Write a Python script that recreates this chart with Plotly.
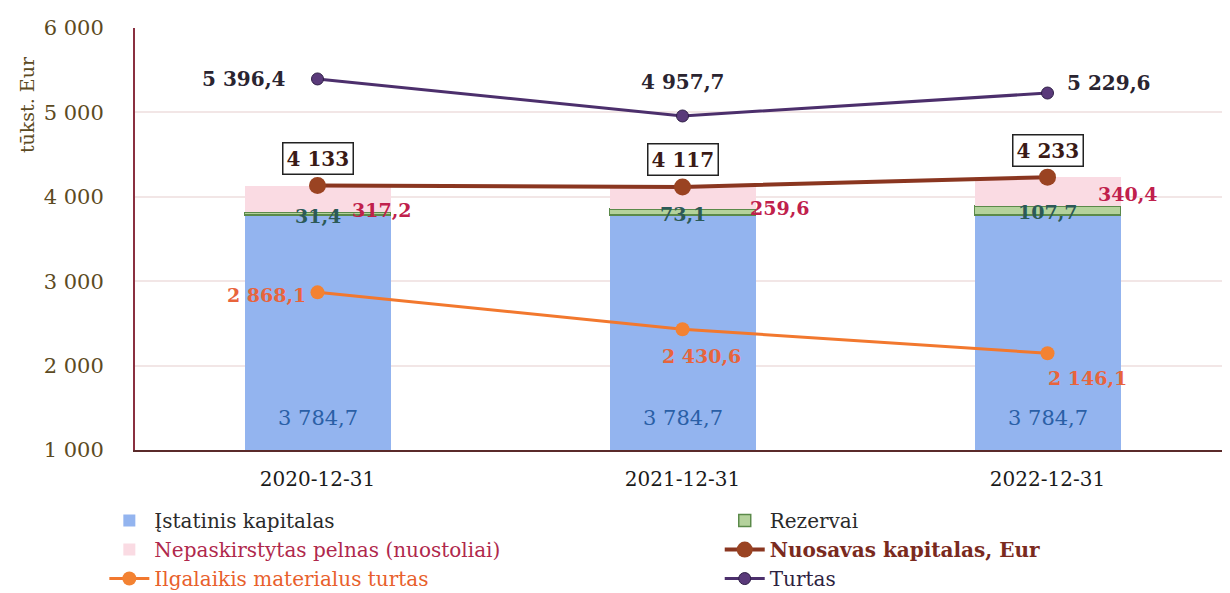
import plotly.graph_objects as go

# -- data (tūkst. Eur) --
dates = ["2020-12-31", "2021-12-31", "2022-12-31"]
istatinis = [3784.7, 3784.7, 3784.7]
rezervai = [31.4, 73.1, 107.7]
nepaskirstytas = [317.2, 259.6, 340.4]
nuosavas = [4133, 4117, 4233]
ilgalaikis = [2868.1, 2430.6, 2146.1]
turtas = [5396.4, 4957.7, 5229.6]

FONT = "DejaVu Serif"


def fmt(v, dec=1):
    s = f"{v:,.{dec}f}"
    return s.replace(",", " ").replace(".", ",")


def legend_name(text, color, bold=False):
    if bold:
        text = f"<b>{text}</b>"
    return f"<span style='color:{color}'>{text}</span>"


fig = go.Figure()

fig.add_trace(go.Bar(
    x=dates, y=istatinis,
    name=legend_name("Įstatinis kapitalas", "#2a2a2a"), legend="legend",
    marker=dict(color="#93b4ef", line=dict(width=0)),
    width=0.4,
))
fig.add_trace(go.Bar(
    x=dates, y=rezervai,
    name=legend_name("Rezervai", "#2a2a2a"), legend="legend2",
    marker=dict(color="#b4d29c", line=dict(width=1.5, color="#5b8a4a")),
    width=0.4,
))
fig.add_trace(go.Bar(
    x=dates, y=nepaskirstytas,
    name=legend_name("Nepaskirstytas pelnas (nuostoliai)", "#b0284c"),
    legend="legend",
    marker=dict(color="#fadbe3", line=dict(width=0)),
    width=0.4,
))
fig.add_trace(go.Scatter(
    x=dates, y=nuosavas, mode="lines+markers",
    name=legend_name("Nuosavas kapitalas, Eur", "#7a2a1e", bold=True),
    legend="legend2",
    line=dict(color="#8a3620", width=4),
    marker=dict(size=17, color="#9a4322"),
))
fig.add_trace(go.Scatter(
    x=dates, y=ilgalaikis, mode="lines+markers",
    name=legend_name("Ilgalaikis materialus turtas", "#e8602c"),
    legend="legend",
    line=dict(color="#f2782e", width=3),
    marker=dict(size=14, color="#f38232"),
))
fig.add_trace(go.Scatter(
    x=dates, y=turtas, mode="lines+markers",
    name=legend_name("Turtas", "#2e2240"),
    legend="legend2",
    line=dict(color="#4c2f6c", width=3),
    marker=dict(size=12, color="#5a3a7a", line=dict(width=1, color="#2e1e46")),
))

# turtas labels
t_anchor = ["right", "center", "left"]
t_dx = [-30, 0, 17]
t_dy = [0, 34, 10]
for d, v, xa, dx, dy in zip(dates, turtas, t_anchor, t_dx, t_dy):
    fig.add_annotation(x=d, y=v, text=fmt(v), showarrow=False,
                       xanchor=xa, xshift=dx, yshift=dy,
                       font=dict(family=FONT, size=20, color="#2a2430", weight="bold"))

# ilgalaikis labels
i_anchor = ["right", "center", "center"]
i_dx = [-10, 19, 40]
i_dy = [-3, -27, -25]
for d, v, xa, dx, dy in zip(dates, ilgalaikis, i_anchor, i_dx, i_dy):
    fig.add_annotation(x=d, y=v, text=fmt(v), showarrow=False,
                       xanchor=xa, xshift=dx, yshift=dy,
                       font=dict(family=FONT, size=19, color="#e8643c", weight="bold"))

# įstatinis labels near the bottom of the blue bars
for d, a in zip(dates, istatinis):
    fig.add_annotation(x=d, y=1000, yanchor="bottom", yshift=18, text=fmt(a),
                       showarrow=False,
                       font=dict(family=FONT, size=21, color="#2a5fa6"))

# rezervai labels at top of the blue bars
for d, a, r in zip(dates, istatinis, rezervai):
    fig.add_annotation(x=d, y=a + r / 2, text=fmt(r), showarrow=False, yshift=-2,
                       font=dict(family=FONT, size=19, color="#2c5a58", weight="bold"))

# nepaskirstytas labels, right of the stack
xshifts = [64, 97, 80]
yshifts = [-11, -10, -2]
for d, a, r, n, xs, ys in zip(dates, istatinis, rezervai, nepaskirstytas, xshifts, yshifts):
    fig.add_annotation(x=d, y=a + r + n / 2, text=fmt(n), showarrow=False,
                       xshift=xs, yshift=ys,
                       font=dict(family=FONT, size=19, color="#c0204c", weight="bold"))

# boxed equity labels
for d, v in zip(dates, nuosavas):
    fig.add_annotation(x=d, y=v, text=fmt(v, 0), showarrow=False, yshift=27,
                       bordercolor="#222222", borderwidth=1.5, borderpad=3,
                       bgcolor="white",
                       font=dict(family=FONT, size=20, color="#3a1a16", weight="bold"))

fig.add_annotation(xref="paper", yref="paper", x=-0.0986, y=0.8175,
                   xanchor="center", yanchor="middle",
                   text="tūkst. Eur", textangle=-90, showarrow=False,
                   font=dict(family=FONT, size=19, color="#5c4a22"))

legend_style = dict(
    orientation="v", yanchor="top", y=-0.121, xanchor="left",
    font=dict(family=FONT, size=20, color="#2a2a2a"),
    traceorder="normal", itemwidth=40, tracegroupgap=0,
    bgcolor="rgba(0,0,0,0)",
)

# page body adds an 8px offset, so the figure is 8px smaller
fig.update_layout(
    barmode="stack",
    width=1222, height=585,
    paper_bgcolor="white", plot_bgcolor="white",
    margin=dict(l=127, r=0, t=20, b=143, autoexpand=False),
    font=dict(family=FONT, size=20, color="#222222"),
    showlegend=True,
    legend=dict(legend_style, x=-0.028),
    legend2=dict(legend_style, x=0.534),
    xaxis=dict(
        type="category",
        showgrid=False, showline=True, linecolor="#5a2a2a", linewidth=2,
        tickfont=dict(family=FONT, size=20, color="#1a1a1a"),
        ticklabelstandoff=10,
    ),
    yaxis=dict(
        range=[1000, 6000], dtick=1000, tickformat=",d",
        showgrid=True, gridcolor="#f2e6e6", gridwidth=1.5,
        showline=True, linecolor="#8a3040", linewidth=2,
        zeroline=False,
        tickfont=dict(family=FONT, size=21, color="#5c4a22"),
        ticklabelstandoff=25,
    ),
    separators=", ",
)

fig.write_html("out.html")
